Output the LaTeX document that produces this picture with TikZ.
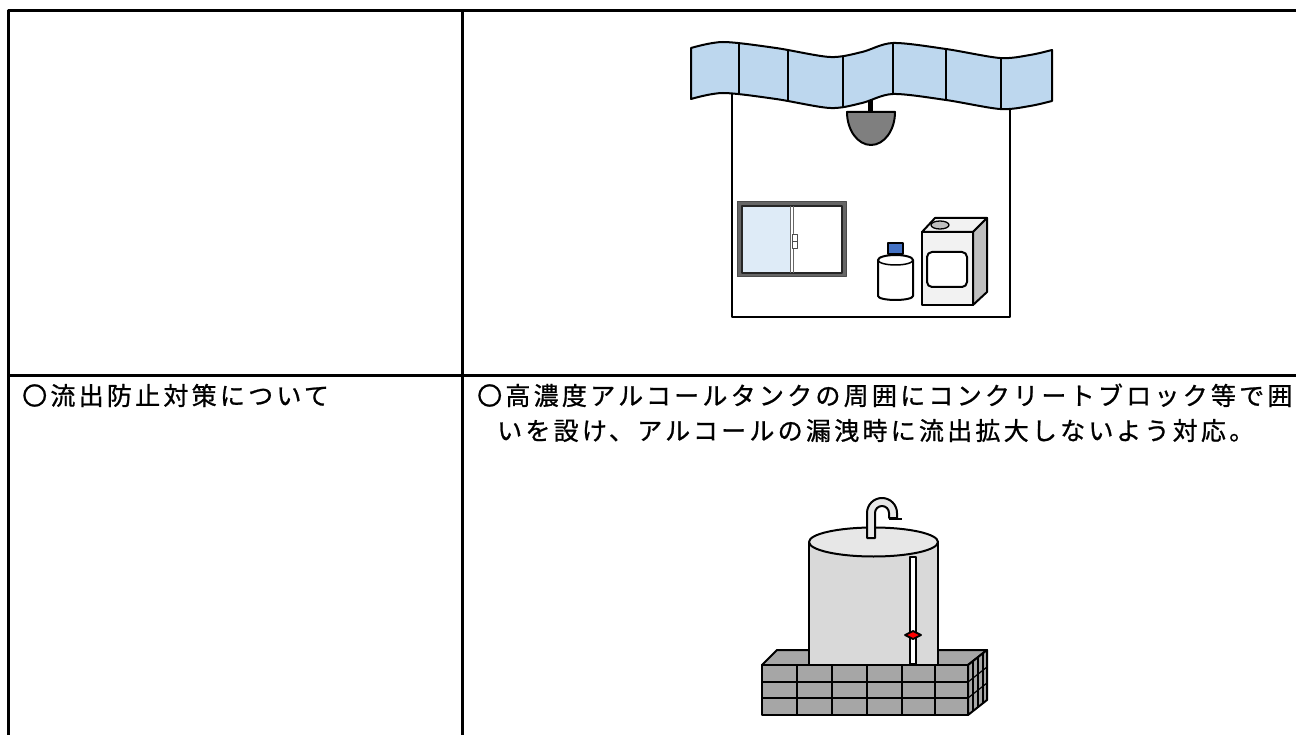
\documentclass[tikz,border=0pt]{standalone}
\usepackage{fontspec}
\setmainfont{Noto Sans CJK JP}
\usetikzlibrary{intersections}
\definecolor{banner}{HTML}{BDD7EE}
\definecolor{lampgray}{HTML}{7F7F7F}
\definecolor{pane}{HTML}{DEEBF7}
\definecolor{capblue}{HTML}{4472C4}
\definecolor{canfront}{HTML}{F2F2F2}
\definecolor{canside}{HTML}{BFBFBF}
\definecolor{tankbody}{HTML}{D9D9D9}
\definecolor{tanktop}{HTML}{E7E7E7}
\definecolor{brick}{HTML}{A6A6A6}
\begin{document}
\begin{tikzpicture}[x=1pt,y=-1pt,line join=round,
  rule/.style={line width=3pt},
  ink/.style={draw=black,line width=2pt},
  thin ink/.style={draw=black,line width=1.3pt},
  cell text/.style={inner sep=0pt,anchor=base west,
    font=\fontsize{25}{30}\selectfont\addfontfeature{LetterSpace=13,FakeBold=0.9}}]
\useasboundingbox (0,0) rectangle (1296,735);

% table rules
\draw[rule] (8,735) -- (8,11) -- (1296,11);
\draw[rule] (462,11) -- (462,735);
\draw[rule] (8,375) -- (1296,375);

% cell texts
\node[cell text] (topic) at (22,405) {〇流出防止対策について};
\node[cell text] (measure1) at (477,405) {〇高濃度アルコールタンクの周囲にコンクリートブロック等で囲};
\node[cell text] (measure2) at (497,440) {いを設け、アルコールの漏洩時に流出拡大しないよう対応。};

% ---------- storage room ----------
\draw[line width=2.2pt] (732,90) -- (732,317) -- (1010,317) -- (1010,90);

% wavy ceiling banner
\draw[ink,fill=banner] plot[smooth] coordinates {(691,48) (723,42) (776,48) (830,57) (862,52) (893,43) (946,49) (1000,58) (1030,55) (1052,50)}
  -- plot[smooth] coordinates {(1052,101) (1030,106) (1000,109) (946,100) (893,94) (862,103) (830,108) (776,99) (723,93) (691,99)} -- cycle;
\path[name path=bannertop] plot[smooth] coordinates {(691,48) (723,42) (776,48) (830,57) (862,52) (893,43) (946,49) (1000,58) (1030,55) (1052,50)};
\foreach \xx [count=\i] in {739,788,843,893,946,1001} {
  \path[name path=cut\i] (\xx,0) -- (\xx,150);
  \path[name intersections={of=bannertop and cut\i, by=seam\i}];
  \draw[line width=1.2pt] (seam\i) -- ++(0,51);
}

% ceiling lamp
\fill (868,100) rectangle (873,113);
\draw[ink,fill=lampgray] (847,112) -- (895,112) arc[start angle=0,end angle=180,x radius=24,y radius=33] -- cycle;

% sliding window
\draw[draw=black!70,line width=1pt,fill=black!60] (737,202) rectangle (846,277);
\fill[white] (742,206) rectangle (842,273);
\fill[pane] (742,206) rectangle (790,273);
\draw[black!85,line width=1.5pt] (742,206) rectangle (842,273);
\draw[black!60,line width=0.8pt] (790,206) -- (790,273) (793,206) -- (793,273);
\draw[black!70,line width=0.8pt,fill=white] (792,234) rectangle (797,241) (792,241) rectangle (797,248);

% small bottle
\draw[ink,fill=white] (878,260) -- (878,296) arc[start angle=180,end angle=0,x radius=17.5,y radius=4]
  -- (913,260) arc[start angle=0,end angle=-180,x radius=17.5,y radius=5] -- cycle;
\draw[line width=1.5pt] (878,260) arc[start angle=180,end angle=0,x radius=17.5,y radius=5];
\draw[thin ink,fill=capblue] (888,243) rectangle (903,254);

% canister
\draw[ink,fill=canfront] (922,232) rectangle (973,305);
\draw[ink,fill=canfront] (922,232) -- (935,218) -- (987,218) -- (973,232) -- cycle;
\draw[ink,fill=canside] (973,232) -- (987,218) -- (987,292) -- (973,305) -- cycle;
\draw[thin ink,fill=canside] (940,225) ellipse[x radius=9,y radius=4];
\draw[ink,fill=white,rounded corners=5pt] (927,252) rectangle (967,287);

% ---------- tank with block enclosure ----------
% inside of the enclosure
\draw[ink,fill=brick] (777,650) -- (987,650) -- (968,665) -- (762,665) -- cycle;

% tank body and roof
\fill[tankbody] (809,542) rectangle (938,666);
\draw[ink] (809,542) -- (809,666) (938,542) -- (938,666);
\draw[ink,fill=tanktop] (873.5,542) ellipse[x radius=64.5,y radius=14.5];

% vent pipe
\draw[ink,fill=tanktop] (867,538) -- (867,513) arc[start angle=180,end angle=360,radius=15]
  -- (897,518) -- (889,518) -- (889,513) arc[start angle=0,end angle=-180,radius=7]
  -- (875,538) -- cycle;
\draw[line width=2pt] (889,519) -- (902,519);

% level gauge
\draw[thin ink,fill=white] (910,557) rectangle (916,664);
\draw[line width=1.8pt,fill=red] (905,635) -- (913,631) -- (921,635) -- (913,639) -- cycle;

% front wall of blocks
\draw[ink,fill=brick] (762,665) rectangle (968,715);
\foreach \yy in {682,698} \draw[line width=1.8pt] (762,\yy) -- (968,\yy);
\foreach \xx in {797,832,867,902,935} \draw[line width=1.8pt] (\xx,665) -- (\xx,715);

% side wall of blocks
\draw[ink,fill=brick] (968,665) -- (987,650) -- (987,700) -- (968,715) -- cycle;
\foreach \xx in {973,978,983} \draw[line width=1.2pt] (\xx,{665-(\xx-968)*15/19}) -- (\xx,{715-(\xx-968)*15/19});
\foreach \yy in {682,698} \draw[line width=1.2pt] (968,\yy) -- (987,\yy-15);
\end{tikzpicture}
\end{document}
